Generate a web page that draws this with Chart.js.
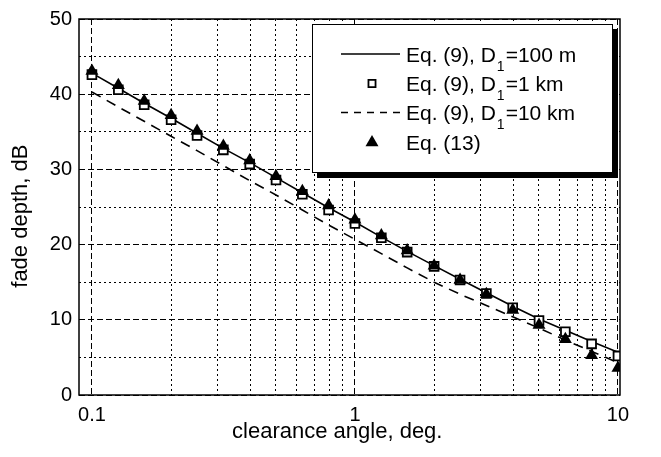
<!DOCTYPE html>
<html><head><meta charset="utf-8">
<script src="https://cdn.jsdelivr.net/npm/chart.js@4"></script>
<style>html,body{margin:0;padding:0;background:#fff}</style>
</head><body>
<canvas id="c" width="661" height="457"></canvas>
<script>
// ---- data ----
const angleDeg     = [0.1,0.126,0.158,0.2,0.251,0.316,0.398,0.501,0.631,0.794,1,1.26,1.58,2,2.51,3.16,3.98,5.01,6.31,7.94,10];
const fadeEq9_100m = [42.8,40.8,38.8,36.8,34.8,32.8,30.9,28.9,26.9,24.9,23.0,21.0,19.1,17.2,15.4,13.6,11.8,10.1,8.6,7.1,5.7];
const fadeEq9_1km  = [42.6,40.6,38.6,36.6,34.5,32.6,30.7,28.6,26.7,24.6,22.8,20.9,19.0,17.1,15.3,13.5,11.6,9.9,8.4,6.8,5.2];
const fadeEq9_10km = [40.3,38.3,36.4,34.4,32.5,30.5,28.5,26.6,24.6,22.6,20.7,18.8,16.9,15.0,13.4,11.9,10.4,8.9,7.3,5.8,4.3];
const fadeEq13     = [43.1,41.2,39.1,37.2,35.1,33.1,31.2,29.1,27.1,25.2,23.3,21.2,19.2,17.2,15.3,13.4,11.3,9.3,7.4,5.3,3.6];
const seriesNames  = ['Eq. (9), D\u2081=100 m','Eq. (9), D\u2081=1 km','Eq. (9), D\u2081=10 km','Eq. (13)'];
const xGridValues  = [0.1,0.2,0.3,0.4,0.5,0.6,0.7,0.8,0.9,1,2,3,4,5,6,7,8,9,10];
const xLabelValues = [0.1,1,10];
const xLabelTexts  = ['0.1','1','10'];
const yLabelValues = [0,10,20,30,40,50];
const xTitle = 'clearance angle, deg.';
const yTitle = 'fade depth, dB';

const FONT = '"Liberation Sans", Arial, Helvetica, sans-serif';
const pts = arr => arr.map((v,i)=>({x:angleDeg[i], y:v}));

const framePlugin = {
  id:'frame',
  afterDatasetsDraw(chart){
    const {ctx, chartArea:a} = chart;
    ctx.save();
    ctx.strokeStyle='#000'; ctx.lineWidth=1.5;
    ctx.strokeRect(a.left, a.top, a.right-a.left, a.bottom-a.top);
    ctx.restore();
  }
};

const legendPlugin = {
  id:'legendBox',
  afterDraw(chart){
    const ctx = chart.ctx;
    const bx=312, by=24, bw=301, bh=149;
    ctx.save();
    ctx.fillStyle='#000'; ctx.fillRect(bx+5, by+5, bw, bh);
    ctx.fillStyle='#fff'; ctx.fillRect(bx, by, bw, bh);
    ctx.strokeStyle='#000'; ctx.lineWidth=1; ctx.strokeRect(bx+0.5, by+0.5, bw-1, bh-1);
    const rowY = [54, 83.5, 112.5, 142.5];
    const sx0=341, sx1=400, mx=372, tx=406;
    chart.data.datasets.forEach((ds,i)=>{
      const y = rowY[i];
      ctx.save();
      if (ds.showLine !== false) {
        ctx.strokeStyle='#000'; ctx.lineWidth=ds.borderWidth;
        ctx.setLineDash(ds.borderDash && ds.borderDash.length ? [7,6] : []);
        ctx.beginPath(); ctx.moveTo(sx0,y); ctx.lineTo(sx1,y); ctx.stroke();
      } else if (ds.pointStyle==='rect') {
        const s = 5*Math.SQRT1_2;
        ctx.fillStyle='#fff'; ctx.strokeStyle='#000'; ctx.lineWidth=ds.pointBorderWidth;
        ctx.beginPath(); ctx.rect(mx-s, y-s, 2*s, 2*s); ctx.fill(); ctx.stroke();
      } else if (ds.pointStyle==='triangle') {
        const r = ds.pointRadius;
        ctx.fillStyle='#000';
        ctx.beginPath();
        ctx.moveTo(mx, y-r);
        ctx.lineTo(mx+r*Math.sin(2*Math.PI/3), y+r/2);
        ctx.lineTo(mx-r*Math.sin(2*Math.PI/3), y+r/2);
        ctx.closePath(); ctx.fill();
      }
      ctx.restore();
      // text with subscript
      const base = y + 7.5;
      const parts = ds.label.split('\u2081');
      ctx.fillStyle='#000'; ctx.textBaseline='alphabetic'; ctx.textAlign='left';
      ctx.font = '21px ' + FONT;
      let x = tx;
      ctx.fillText(parts[0], x, base); x += ctx.measureText(parts[0]).width;
      if (parts.length > 1) {
        ctx.font = '14px ' + FONT;
        ctx.fillText('1', x+1, base+9); x += ctx.measureText('1').width + 2;
        ctx.font = '21px ' + FONT;
        ctx.fillText(parts[1], x, base);
      }
    });
    ctx.restore();
  }
};

const gridDash = (isMajor) => (ctx) => {
  if (!ctx.tick) return [];
  return isMajor(ctx.tick.value) ? [6,3] : [2,3];
};

new Chart(document.getElementById('c'), {
  type:'line',
  data:{
    datasets:[
      {label:seriesNames[0], data:pts(fadeEq9_100m), borderColor:'#000', borderWidth:1.6, pointRadius:0, tension:0, clip:0, order:2},
      {label:seriesNames[1], data:pts(fadeEq9_1km), showLine:false, pointStyle:'rect', pointRadius:6.2, pointBorderWidth:1.8, pointBackgroundColor:'#fff', pointBorderColor:'#000', clip:0, order:1},
      {label:seriesNames[2], data:pts(fadeEq9_10km), borderColor:'#000', borderWidth:1.6, borderDash:[10,7], pointRadius:0, tension:0, clip:0, order:3},
      {label:seriesNames[3], data:pts(fadeEq13), showLine:false, pointStyle:'triangle', pointRadius:7.5, pointBorderWidth:0, pointBackgroundColor:'#000', pointBorderColor:'#000', clip:0, order:0}
    ]
  },
  options:{
    responsive:false, animation:false, events:[], devicePixelRatio:1,
    layout:{padding:{top:17, right:41, bottom:0, left:0}},
    plugins:{legend:{display:false}, tooltip:{enabled:false}},
    scales:{
      x:{
        type:'logarithmic', min:0.0893, max:10.18,
        afterBuildTicks: s => { s.ticks = xGridValues.map(v=>({value:v})); },
        afterFit: s => { s.height = 62; },
        ticks:{autoSkip:false, maxRotation:0, padding:8, color:'#000', font:{family:FONT, size:20},
          callback:(v)=>{ const k = xLabelValues.indexOf(v); return k>=0 ? xLabelTexts[k] : ''; }},
        grid:{color:'#000', lineWidth:1, drawTicks:false},
        border:{display:false, dash: gridDash(v => xLabelValues.includes(v))},
        title:{display:true, text:xTitle + '    ', color:'#000', font:{family:FONT, size:22}, padding:{top:0, bottom:12}}
      },
      y:{
        type:'linear', min:0, max:50,
        ticks:{stepSize:5, padding:7, color:'#000', font:{family:FONT, size:20},
          callback:(v)=> yLabelValues.includes(v) ? String(v) : ''},
        afterFit: s => { s.width = 79; },
        grid:{color:'#000', lineWidth:1, drawTicks:false},
        border:{display:false, dash: gridDash(v => yLabelValues.includes(v))},
        title:{display:true, text:yTitle + '   ', color:'#000', font:{family:FONT, size:22}, padding:{top:8, bottom:0}}
      }
    }
  },
  plugins:[framePlugin, legendPlugin]
});
</script>
</body></html>
